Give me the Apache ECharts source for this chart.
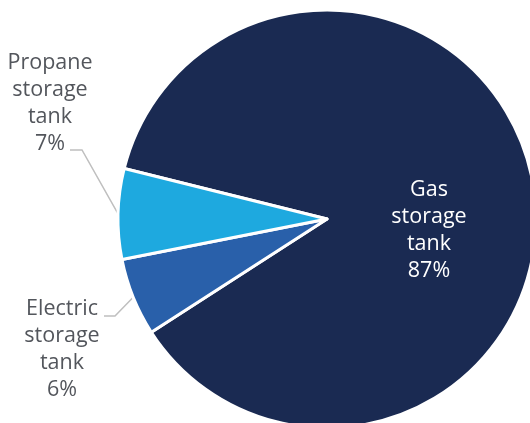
<!DOCTYPE html>
<html>
<head>
<meta charset="utf-8">
<script src="https://cdn.jsdelivr.net/npm/echarts@6/dist/echarts.min.js"></script>
<style>
  html, body { margin: 0; padding: 0; background: #fff; }
  #chart { width: 530px; height: 423px; }
</style>
</head>
<body>
<div id="chart"></div>
<script>
// Water heater types, share of homes (%)
const categories = ['Gas storage tank', 'Electric storage tank', 'Propane storage tank'];
const shares = [87, 6, 7];
const sliceColors = ['#1a2a52', '#2960aa', '#1ea9df'];

// Centre of each text block, and leader-line elbow / end relative to it
const labelAnchors = [[429, 230], [62, 349], [50, 103]];
const leaderOffsets = [null, [[53, -33], [42, -33]], [[32, 47], [20, 47]]];

const chart = echarts.init(document.getElementById('chart'), null, { renderer: 'canvas' });

const FONT = '"Open Sans", "Noto Sans", sans-serif';

const data = categories.map((name, i) => {
  const inside = i === 0;
  return {
    name: name,
    value: shares[i],
    itemStyle: { color: sliceColors[i] },
    label: {
      position: inside ? 'inside' : 'outside',
      color: inside ? '#ffffff' : '#53565c'
    },
    labelLine: { show: !inside }
  };
});

chart.setOption({
  animation: false,
  series: [{
    type: 'pie',
    center: [327, 219],
    radius: [0, 209],
    startAngle: 166,
    clockwise: true,
    avoidLabelOverlap: false,
    itemStyle: { borderColor: '#ffffff', borderWidth: 3 },
    label: {
      fontFamily: FONT,
      fontSize: 21.5,
      lineHeight: 27,
      align: 'center',
      formatter: p => p.name.split(' ').join('\n') + '\n' + p.value + '%'
    },
    labelLine: {
      lineStyle: { color: '#bfbfbf', width: 1.5 }
    },
    labelLayout: function (p) {
      const i = p.dataIndex;
      const a = labelAnchors[i];
      const out = { x: a[0], y: a[1], align: 'center', verticalAlign: 'middle' };
      const off = leaderOffsets[i];
      if (off && p.labelLinePoints) {
        out.labelLinePoints = [
          p.labelLinePoints[0],
          [a[0] + off[0][0], a[1] + off[0][1]],
          [a[0] + off[1][0], a[1] + off[1][1]]
        ];
      }
      return out;
    },
    data: data
  }]
});
</script>
</body>
</html>
